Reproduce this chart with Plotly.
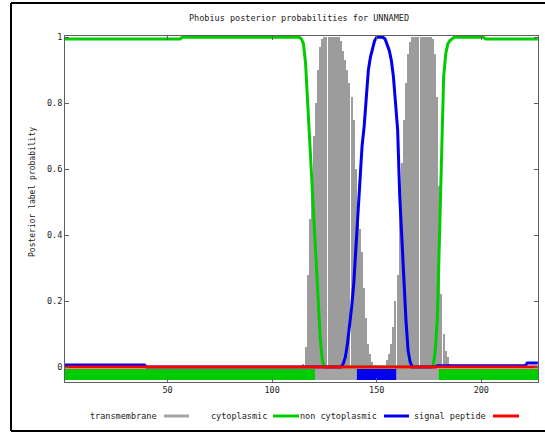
import plotly.graph_objects as go

# ---------------- data ----------------
residues = list(range(1, 228))

# cytoplasmic (green)
cyto = ([0.995] * 56 + [1.0] * 56 +
        [1.0, 0.995, 0.98, 0.92, 0.80, 0.67, 0.54, 0.42, 0.31, 0.20, 0.09, 0.02, 0.0] +
        [0.0] * 51 +
        [0.005, 0.05, 0.15, 0.40, 0.70, 0.88, 0.95, 0.98, 0.99, 0.995, 1.0] +
        [1.0] * 14 + [0.995] * 26)

# non cytoplasmic (blue)
noncyto = ([0.006] * 39 + [0.0] * 94 +
           [0.01, 0.03, 0.07, 0.12, 0.18, 0.25, 0.36, 0.46, 0.59, 0.67, 0.73, 0.82,
            0.90, 0.94, 0.97, 0.99, 1.0, 1.0, 1.0, 1.0, 0.995, 0.98, 0.96, 0.93,
            0.88, 0.80, 0.72, 0.52, 0.38, 0.25, 0.14, 0.05, 0.015] +
           [0.0] * 12 + [0.004] * 43 + [0.012] * 6)

# transmembrane (grey impulses)
transmem = ([0.0] * 114 +
            [0.01, 0.06, 0.28, 0.45, 0.58, 0.70, 0.80, 0.90, 0.97, 0.995] + [1.0] * 8 +
            [0.99, 0.96, 0.93, 0.90, 0.86, 0.82, 0.75, 0.60, 0.50, 0.42, 0.35, 0.24,
             0.15, 0.07, 0.04, 0.015, 0.005] +
            [0.0] * 5 +
            [0.02, 0.04, 0.07, 0.12, 0.20, 0.28, 0.48, 0.62, 0.75, 0.86, 0.95, 0.985] +
            [1.0] * 10 +
            [0.995, 0.95, 0.82, 0.55, 0.22, 0.10, 0.05, 0.03, 0.01] +
            [0.0] * 42)

# signal peptide (red)
signal = [0.0] * 227

# predicted topology segments (start, end, label)
topo_start = [1, 120.5, 140.5, 159.5, 179.5]
topo_end = [120.5, 140.5, 159.5, 179.5, 227.1]
topo_label = ["cytoplasmic", "transmembrane", "non cytoplasmic", "transmembrane", "cytoplasmic"]

legend_labels = ["transmembrane", "cytoplasmic", "non cytoplasmic", "signal peptide"]
x_ticks = [50, 100, 150, 200]
y_ticks = [0, 0.2, 0.4, 0.6, 0.8, 1]

title_text = "Phobius posterior probabilities for UNNAMED"
y_title = "Posterior label probability"

# ---------------- styles ----------------
colors = {"transmembrane": "#a4a4a4", "cytoplasmic": "#00cc00",
          "non cytoplasmic": "#0000ee", "signal peptide": "#ff0000"}
FONT = "DejaVu Sans Mono"
TXT = "#222222"

fig = go.Figure()

fig.add_trace(go.Bar(x=residues, y=transmem, width=0.55,
                     marker=dict(color="#9c9c9c", line=dict(width=0)),
                     name="transmembrane", showlegend=False))

for s, e, lab in zip(topo_start, topo_end, topo_label):
    fig.add_trace(go.Scatter(x=[s, e], y=[-0.023, -0.023], mode="lines",
                             line=dict(color=colors[lab], width=11),
                             showlegend=False, hoverinfo="skip"))

fig.add_trace(go.Scatter(x=residues, y=cyto, mode="lines",
                         line=dict(color=colors["cytoplasmic"], width=3), showlegend=False))
fig.add_trace(go.Scatter(x=residues, y=noncyto, mode="lines",
                         line=dict(color=colors["non cytoplasmic"], width=3), showlegend=False))
fig.add_trace(go.Scatter(x=residues, y=signal, mode="lines",
                         line=dict(color=colors["signal peptide"], width=3), showlegend=False))

# ---------------- layout ----------------
W, H = 545, 436
L, R, T, B = 65, 7, 36, 54
pw, ph = W - L - R, H - T - B

def px_x(px):
    return (px - L) / pw

def px_y(py):
    return (H - B - py) / ph

axis_common = dict(showgrid=False, zeroline=False, showline=True, linecolor="#606060",
                   linewidth=1, mirror="ticks", ticks="inside", ticklen=4,
                   tickcolor="#606060", tickfont=dict(family=FONT, size=8.5, color=TXT))

fig.update_layout(
    width=W, height=H,
    margin=dict(l=L, r=R, t=T, b=B),
    paper_bgcolor="white", plot_bgcolor="white",
    bargap=0,
    xaxis=dict(range=[1, 227.1], tickvals=x_ticks, **axis_common),
    yaxis=dict(range=[-0.0455, 1.004], tickvals=y_ticks, **axis_common),
    showlegend=False,
)

annotations = [
    dict(text=title_text, x=px_x(299), y=px_y(18), xref="paper", yref="paper",
         showarrow=False, font=dict(family=FONT, size=8.5, color=TXT),
         xanchor="center", yanchor="middle"),
    dict(text=y_title, x=px_x(32), y=px_y(192), xref="paper", yref="paper",
         showarrow=False, textangle=-90, font=dict(family=FONT, size=8, color=TXT),
         xanchor="center", yanchor="middle"),
]

legend_text_right = [159, 269, 379, 488]
legend_line = [(164, 189), (273, 299), (384, 409), (493, 519)]
shapes = []
ly = px_y(416)
for lab, tr, (a, b) in zip(legend_labels, legend_text_right, legend_line):
    annotations.append(dict(text=lab, x=px_x(tr), y=ly, xref="paper", yref="paper",
                            showarrow=False, xanchor="right", yanchor="middle",
                            font=dict(family=FONT, size=8.5, color=TXT)))
    shapes.append(dict(type="line", xref="paper", yref="paper", x0=px_x(a), x1=px_x(b),
                       y0=ly, y1=ly, line=dict(color=colors[lab], width=3)))

# outer border (left, top, bottom)
bl, bt, bb, br = px_x(11), px_y(3), px_y(431), px_x(548)
for x0, y0, x1, y1 in [(bl, bb, bl, bt), (bl, bt, br, bt), (bl, bb, br, bb)]:
    shapes.append(dict(type="line", xref="paper", yref="paper", x0=x0, y0=y0, x1=x1, y1=y1,
                       line=dict(color="black", width=2)))

fig.update_layout(annotations=annotations, shapes=shapes)

fig.write_html("out.html", config={"displayModeBar": False},
               post_script="document.body.style.margin='0';document.body.style.overflow='hidden';")
